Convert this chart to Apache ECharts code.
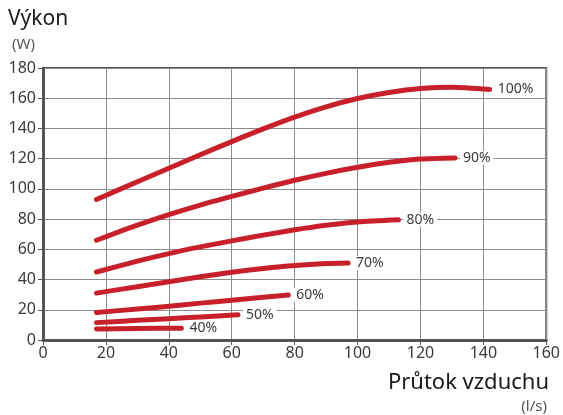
<!DOCTYPE html>
<html>
<head>
<meta charset="utf-8">
<script src="https://cdn.jsdelivr.net/npm/echarts@6/dist/echarts.min.js"></script>
<style>
  html, body { margin: 0; padding: 0; background: #fff; }
  #chart { width: 563px; height: 415px; }
</style>
</head>
<body>
<div id="chart"></div>
<script>
// fan speed curves: [airflow l/s, power W]
const speeds = ["100%", "90%", "80%", "70%", "60%", "50%", "40%"];
const p100 = [[17, 93], [30, 104.7], [40, 113.7], [50, 122.6], [60, 131.3], [70, 139.7], [80, 147.5], [90, 154.3], [100, 159.8], [110, 163.8], [120, 166.4], [130, 167.3], [142, 165.8]];
const p90 = [[17, 66], [30, 76], [40, 83], [50, 89.3], [60, 95], [70, 100.5], [80, 105.7], [90, 110.3], [100, 114.3], [110, 117.6], [120, 119.8], [131, 120.5]];
const p80 = [[17, 45], [30, 52.2], [40, 57.2], [50, 61.6], [60, 65.6], [70, 69.4], [80, 72.9], [90, 75.9], [100, 78.1], [113, 79.5]];
const p70 = [[17, 31], [30, 35.3], [40, 38.6], [50, 41.8], [60, 44.8], [70, 47.3], [80, 49.3], [90, 50.6], [97, 51]];
const p60 = [[17, 18.2], [30, 20.5], [40, 22.3], [50, 24.4], [60, 26.3], [70, 28.3], [78, 29.8]];
const p50 = [[17, 11.5], [30, 13], [40, 14.1], [50, 15.3], [62, 16.7]];
const p40 = [[17, 7.3], [30, 7.6], [44, 7.8]];
const curves = [p100, p90, p80, p70, p60, p50, p40];

const font = "'Noto Sans', sans-serif";
const chart = echarts.init(document.getElementById("chart"), null, { renderer: "canvas" });

chart.setOption({
  animation: false,
  grid: {
    left: 43, right: 15, top: 68, bottom: 75,
    show: true, borderColor: "#555", borderWidth: 2
  },
  xAxis: {
    type: "value", min: 0, max: 160, interval: 20,
    axisLine: { show: true, onZero: false, lineStyle: { color: "#555", width: 3 } },
    axisTick: { show: true, length: 5, lineStyle: { color: "#555", width: 1 } },
    axisLabel: { color: "#3a3a3a", fontSize: 16, fontFamily: font, margin: 5 },
    splitLine: { show: true, lineStyle: { color: "#8c8c8c", width: 1 } }
  },
  yAxis: {
    type: "value", min: 0, max: 180, interval: 20,
    axisLine: { show: true, onZero: false, lineStyle: { color: "#555", width: 3 } },
    axisTick: { show: true, length: 5, lineStyle: { color: "#555", width: 1 } },
    axisLabel: { color: "#3a3a3a", fontSize: 16, fontFamily: font, margin: 7 },
    splitLine: { show: true, lineStyle: { color: "#8c8c8c", width: 1 } }
  },
  graphic: [
    { type: "text", left: 8, top: 9, style: { text: "Výkon", fill: "#1a1a1a", font: "21px " + font } },
    { type: "text", left: 12, top: 37, style: { text: "(W)", fill: "#555", font: "15px " + font } },
    { type: "text", right: 14, top: 372, style: { text: "Průtok vzduchu", fill: "#1a1a1a", font: "22px " + font } },
    { type: "text", right: 16, top: 399, style: { text: "(l/s)", fill: "#555", font: "15px " + font } }
  ],
  series: curves.map((data, i) => ({
    type: "line",
    name: speeds[i],
    data: data,
    smooth: 0.25,
    showSymbol: false,
    lineStyle: { color: "#c8202a", width: 5, cap: "round", join: "round" },
    endLabel: {
      show: true,
      formatter: speeds[i],
      color: "#3a3a3a",
      fontSize: 14,
      fontFamily: font,
      backgroundColor: "#fff",
      padding: [0, 3],
      distance: 5
    }
  }))
});
</script>
</body>
</html>
